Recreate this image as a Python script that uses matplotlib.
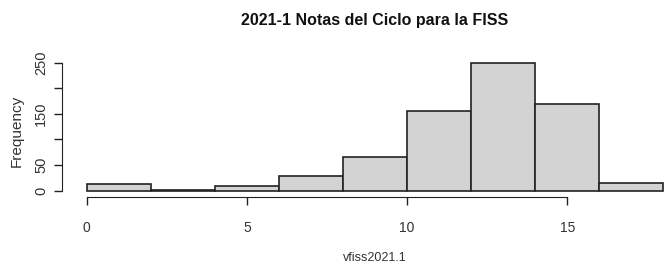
import matplotlib
matplotlib.use('Agg')
import matplotlib.pyplot as plt

# Histogram of grades (bins of width 2)
bin_edges = [0, 2, 4, 6, 8, 10, 12, 14, 16, 18]
counts = [13, 2, 9, 28, 65, 156, 250, 170, 15]
x_ticks = [0, 5, 10, 15]
y_ticks = [0, 50, 100, 150, 200, 250]
y_ticklabels = ['0', '50', '', '150', '', '250']

plt.rcParams['font.family'] = ['Liberation Sans', 'DejaVu Sans']

fig = plt.figure(figsize=(6.64, 2.67), dpi=100)
ax = fig.add_axes([0.0934, 0.2622, 0.9066, 0.532])

ax.bar(bin_edges[:-1], counts, width=2, align='edge', color='#d3d3d3',
       edgecolor='#222222', linewidth=1.2, clip_on=False)

ax.set_xlim(-0.771, 18.02)
ax.set_ylim(-12.3, 265)

# R-style detached axes
for s in ['top', 'right']:
    ax.spines[s].set_visible(False)
ax.spines['left'].set_bounds(0, 250)
ax.spines['bottom'].set_bounds(0, 15)
ax.spines['left'].set_color('#222222')
ax.spines['bottom'].set_color('#222222')

ax.set_xticks(x_ticks)
ax.set_yticks(y_ticks)
ax.set_yticklabels(y_ticklabels, rotation=90, va='center')
ax.tick_params(axis='both', direction='out', length=6, width=1, colors='#222222',
               labelsize=10, labelcolor='#333333')
ax.tick_params(axis='x', pad=11)
ax.tick_params(axis='y', pad=4, labelsize=10.5)

fig.text(0.564, 0.922, '2021-1 Notas del Ciclo para la FISS', ha='center', va='center',
         fontsize=11.5, fontweight='bold', color='#111111')
fig.text(0.565, 0.034, 'vfiss2021.1', ha='center', va='center', fontsize=9, color='#333333')
fig.text(0.025, 0.51, 'Frequency', ha='center', va='center', rotation=90, fontsize=11,
         color='#333333')

fig.savefig('out.png', dpi=100)
